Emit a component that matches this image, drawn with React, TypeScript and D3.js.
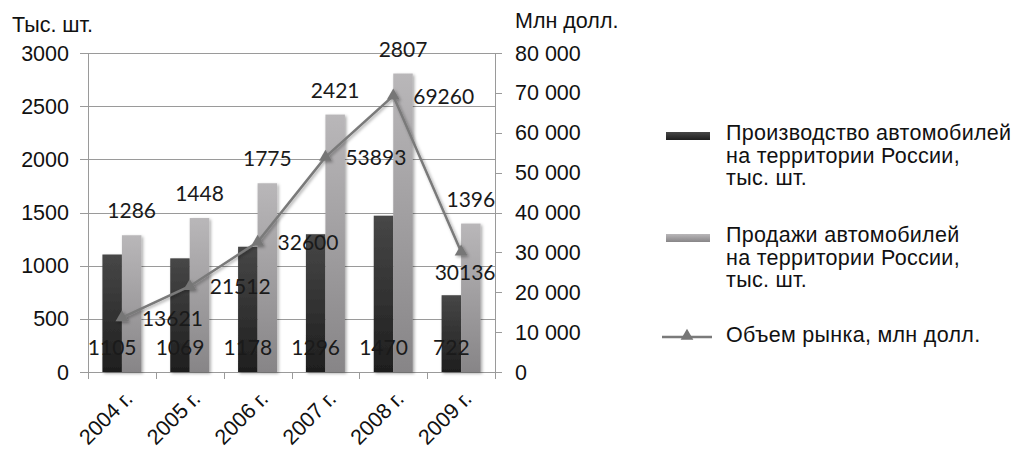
import React, { useEffect, useRef } from "react";
import * as d3 from "d3";

const categories = ["2004 г.", "2005 г.", "2006 г.", "2007 г.", "2008 г.", "2009 г."];
const production = [1105, 1069, 1178, 1296, 1470, 722];
const sales = [1286, 1448, 1775, 2421, 2807, 1396];
const market = [13621, 21512, 32600, 53893, 69260, 30136];
const leftTicks = [0, 500, 1000, 1500, 2000, 2500, 3000];
const rightTicks = [0, 10000, 20000, 30000, 40000, 50000, 60000, 70000, 80000];
const legendItems = [
  ["Производство автомобилей", "на территории России,", "тыс. шт."],
  ["Продажи автомобилей", "на территории России,", "тыс. шт."],
  ["Объем рынка, млн долл."],
];

const W = 1016;
const H = 449;
const plot = { left: 88, right: 495, top: 53, bottom: 372 };
const AXIS_FONT = "'Liberation Sans', Arial, sans-serif";
const LABEL_FONT = "Lato, 'Open Sans', sans-serif";

export default function App() {
  const ref = useRef<SVGSVGElement>(null);

  useEffect(() => {
    const svg = d3.select(ref.current);
    svg.selectAll("*").remove();

    const defs = svg.append("defs");
    const gDark = defs.append("linearGradient").attr("id", "gDark").attr("x1", 0).attr("y1", 0).attr("x2", 0).attr("y2", 1);
    gDark.append("stop").attr("offset", "0%").attr("stop-color", "#474747");
    gDark.append("stop").attr("offset", "100%").attr("stop-color", "#1e1e1e");
    const gLight = defs.append("linearGradient").attr("id", "gLight").attr("x1", 0).attr("y1", 0).attr("x2", 0).attr("y2", 1);
    gLight.append("stop").attr("offset", "0%").attr("stop-color", "#b9b7b9");
    gLight.append("stop").attr("offset", "100%").attr("stop-color", "#878587");
    const f = defs.append("filter").attr("id", "shadow").attr("x", "-30%").attr("y", "-10%").attr("width", "160%").attr("height", "130%");
    f.append("feDropShadow").attr("dx", 1.5).attr("dy", 1.5).attr("stdDeviation", 1.5).attr("flood-color", "#000").attr("flood-opacity", 0.35);

    const x = d3.scaleBand<string>().domain(categories).range([plot.left, plot.right]).padding(0);
    const yL = d3.scaleLinear().domain([0, 3000]).range([plot.bottom, plot.top]);
    const yR = d3.scaleLinear().domain([0, 80000]).range([plot.bottom, plot.top]);
    const bw = x.bandwidth() * 0.2875;
    const cx = (c: string) => (x(c) as number) + x.bandwidth() / 2;

    // gridlines + left ticks
    svg.append("g").selectAll("line").data(leftTicks).join("line")
      .attr("x1", plot.left - 8).attr("x2", plot.right)
      .attr("y1", d => Math.round(yL(d)) + 0.5).attr("y2", d => Math.round(yL(d)) + 0.5)
      .attr("stroke", "#9a9a9a").attr("stroke-width", 1);

    // axes lines
    svg.append("line").attr("x1", plot.left + 0.5).attr("x2", plot.left + 0.5).attr("y1", plot.top).attr("y2", plot.bottom)
      .attr("stroke", "#9a9a9a");
    svg.append("line").attr("x1", plot.right + 0.5).attr("x2", plot.right + 0.5).attr("y1", plot.top).attr("y2", plot.bottom)
      .attr("stroke", "#9a9a9a");
    // right ticks
    svg.append("g").selectAll("line").data(rightTicks).join("line")
      .attr("x1", plot.right).attr("x2", plot.right + 7)
      .attr("y1", d => Math.round(yR(d)) + 0.5).attr("y2", d => Math.round(yR(d)) + 0.5)
      .attr("stroke", "#9a9a9a");
    // x ticks at band edges
    const edges = categories.map(c => x(c) as number).concat([plot.right]);
    svg.append("g").selectAll("line").data(edges).join("line")
      .attr("x1", d => Math.round(d) + 0.5).attr("x2", d => Math.round(d) + 0.5)
      .attr("y1", plot.bottom).attr("y2", plot.bottom + 7)
      .attr("stroke", "#9a9a9a");

    // bars
    const bars = svg.append("g").attr("filter", "url(#shadow)");
    bars.selectAll("rect.p").data(categories).join("rect").attr("class", "p")
      .attr("x", c => cx(c) - bw).attr("width", bw)
      .attr("y", (c, i) => yL(production[i])).attr("height", (c, i) => plot.bottom - yL(production[i]))
      .attr("fill", "url(#gDark)");
    bars.selectAll("rect.s").data(categories).join("rect").attr("class", "s")
      .attr("x", c => cx(c)).attr("width", bw)
      .attr("y", (c, i) => yL(sales[i])).attr("height", (c, i) => plot.bottom - yL(sales[i]))
      .attr("fill", "url(#gLight)");

    // line
    const line = d3.line<number>().x((d, i) => cx(categories[i])).y(d => yR(d));
    const lg = svg.append("g").attr("filter", "url(#shadow)");
    lg.append("path").datum(market).attr("d", line).attr("fill", "none").attr("stroke", "#7a7a7a").attr("stroke-width", 2.5);
    const tri = d3.symbol().type(d3.symbolTriangle).size(70);
    lg.selectAll("path.m").data(market).join("path").attr("class", "m")
      .attr("d", tri)
      .attr("transform", (d, i) => `translate(${cx(categories[i])},${yR(d)})`)
      .attr("fill", "#767676");

    // data labels
    const lbl = svg.append("g").attr("font-family", LABEL_FONT).attr("font-size", 21).attr("fill", "#1a1a1a");
    lbl.selectAll("text.p").data(production).join("text").attr("class", "p")
      .attr("x", (d, i) => cx(categories[i]) - bw / 2).attr("y", plot.bottom - 17)
      .attr("text-anchor", "middle").text(d => String(d));
    lbl.selectAll("text.s").data(sales).join("text").attr("class", "s")
      .attr("x", (d, i) => cx(categories[i]) + bw / 2).attr("y", (d) => yL(d) - 17)
      .attr("text-anchor", "middle").text(d => String(d));
    lbl.selectAll("text.m").data(market).join("text").attr("class", "m")
      .attr("x", (d, i) => i === market.length - 1 ? cx(categories[i]) + 4 : cx(categories[i]) + 20)
      .attr("y", (d, i) => i === market.length - 1 ? yR(d) + 28 : yR(d) + 8)
      .attr("text-anchor", (d, i) => i === market.length - 1 ? "middle" : "start")
      .text(d => String(d));

    // axis labels
    const ax = svg.append("g").attr("font-family", AXIS_FONT).attr("font-size", 21.5).attr("fill", "#111");
    ax.selectAll("text.l").data(leftTicks).join("text").attr("class", "l")
      .attr("x", 69).attr("y", d => yL(d) + 7.5).attr("text-anchor", "end").text(d => String(d));
    const fmt = (v: number) => d3.format(",")(v).replace(/,/g, " ");
    ax.selectAll("text.r").data(rightTicks).join("text").attr("class", "r")
      .attr("x", 515).attr("y", d => yR(d) + 7.5).attr("text-anchor", "start").text(d => fmt(d));
    ax.append("text").attr("x", 12).attr("y", 32).attr("font-size", 21.5).text("Тыс. шт.");
    ax.append("text").attr("x", 515).attr("y", 28).attr("font-size", 21.5).text("Млн долл.");
    ax.selectAll("text.x").data(categories).join("text").attr("class", "x")
      .attr("transform", c => `translate(${cx(c) + 12},${plot.bottom + 28}) rotate(-45)`)
      .attr("text-anchor", "end").attr("font-size", 21.5).text(c => c);

    // legend
    const leg = svg.append("g").attr("font-family", AXIS_FONT).attr("font-size", 21.5).attr("fill", "#111");
    const legTops = [140, 242, 342];
    legendItems.forEach((lines, k) => {
      const base = legTops[k];
      if (k < 2) {
        leg.append("rect").attr("x", 666).attr("y", base - 8).attr("width", 44).attr("height", 8)
          .attr("fill", k === 0 ? "url(#gDark)" : "url(#gLight)");
      } else {
        leg.append("line").attr("x1", 662).attr("x2", 712).attr("y1", base - 5).attr("y2", base - 5)
          .attr("stroke", "#7a7a7a").attr("stroke-width", 2.5);
        leg.append("path").attr("d", tri).attr("transform", `translate(687,${base - 6})`).attr("fill", "#767676");
      }
      lines.forEach((t, j) => {
        leg.append("text").attr("x", 726).attr("y", base + j * 22.5).attr("letter-spacing", 0.3).text(t);
      });
    });
  }, []);

  return (
    <div style={{ position: "absolute", left: 0, top: 0 }}>
      <svg ref={ref} width={W} height={H} style={{ display: "block", background: "#fff" }} />
    </div>
  );
}
